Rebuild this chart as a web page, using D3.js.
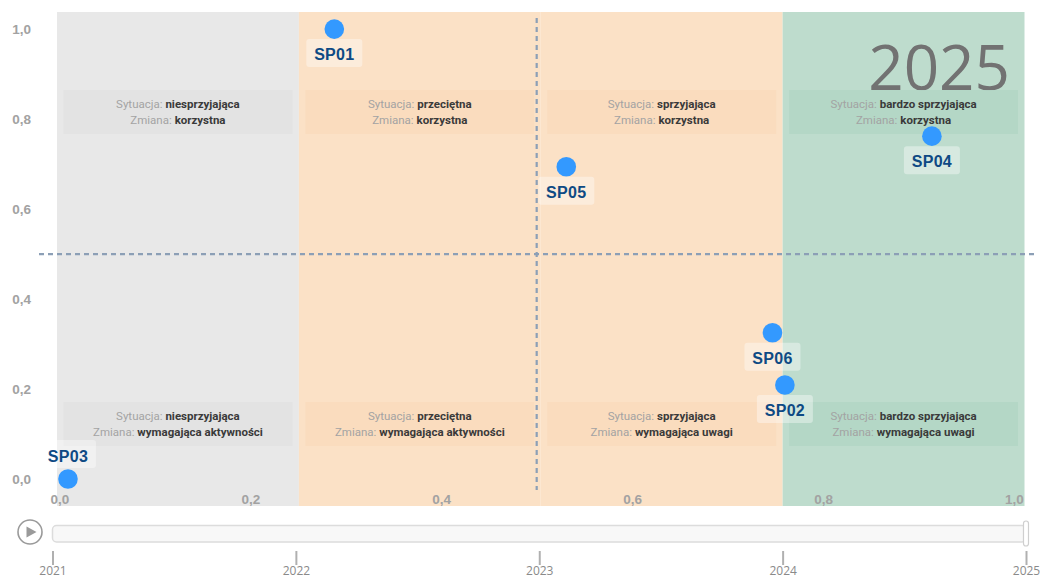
<!DOCTYPE html>
<html lang="pl">
<head>
<meta charset="utf-8">
<title>Sytuacja i zmiana – 2025</title>
<script src="https://cdn.jsdelivr.net/npm/d3@7"></script>
<style>
  html, body { margin: 0; padding: 0; background: #ffffff; }
  svg { display: block; }
</style>
</head>
<body>
<svg id="chart" width="1040" height="580"></svg>
<script>
// ---- data ----
const sites      = ["SP01", "SP02", "SP03", "SP04", "SP05", "SP06"];
const situation  = [0.288, 0.760, 0.009, 0.914, 0.531, 0.747];   // x: sytuacja
const change     = [1.000, 0.209, 0.000, 0.762, 0.694, 0.325];   // y: zmiana

const situationLevels = ["niesprzyjająca", "przeciętna", "sprzyjająca", "bardzo sprzyjająca"];
const changeUpper     = ["korzystna", "korzystna", "korzystna", "korzystna"];
const changeLower     = ["wymagająca aktywności", "wymagająca aktywności", "wymagająca uwagi", "wymagająca uwagi"];
const bandGroups      = ["weak", "mid", "mid", "strong"];

const xTickValues = [0, 0.2, 0.4, 0.6, 0.8, 1.0];
const yTickValues = [0, 0.2, 0.4, 0.6, 0.8, 1.0];
const years       = [2021, 2022, 2023, 2024, 2025];
const currentYear = 2025;

// ---- styling ----
const bandFill = { weak: "#e8e8e8", mid: "#fbe1c6", strong: "#bedccd" };
const boxFill  = { weak: "#e2e2e2", mid: "#fadbbd", strong: "#b3d6c5" };
const pointColor = "#3399ff";
const labelColor = "#0e4a84";
const guideColor = "#8c9fb6";

const svg = d3.select("#chart");
const plot = { left: 57, right: 1024.5, top: 12, bottom: 506 };

const x = d3.scaleLinear().domain([-0.0025, 1.011]).range([plot.left, plot.right]);
const y = d3.scaleLinear().domain([-0.06, 1.038]).range([plot.bottom, plot.top]);

const pl = d3.formatLocale({ decimal: ",", thousands: " ", grouping: [3], currency: ["", " zł"] });
const fmt = pl.format(".1f");

// ---- background bands (four equal columns over the x domain) ----
const [d0, d1] = x.domain();
const colW = (d1 - d0) / 4;
const cols = bandGroups.map((g, i) => ({ g, i, a: d0 + i * colW, b: d0 + (i + 1) * colW }));

svg.append("g").selectAll("rect").data(cols).join("rect")
  .attr("x", d => x(d.a))
  .attr("width", d => x(d.b) - x(d.a))
  .attr("y", plot.top)
  .attr("height", plot.bottom - plot.top)
  .attr("fill", d => bandFill[d.g]);

// ---- year watermark (behind the description boxes) ----
svg.append("text")
  .attr("x", 1010).attr("y", 90)
  .attr("text-anchor", "end")
  .style("font-family", "'Open Sans', sans-serif")
  .style("font-size", "62px")
  .attr("fill", "#727272")
  .text(currentYear);

// ---- quadrant description boxes ----
const quad = [];
cols.forEach(c => {
  quad.push({ c, top: plot.top + 78, sit: situationLevels[c.i], chg: changeUpper[c.i] });
  quad.push({ c, top: plot.bottom - 104, sit: situationLevels[c.i], chg: changeLower[c.i] });
});

const qg = svg.append("g").selectAll("g").data(quad).join("g");
qg.append("rect")
  .attr("x", d => x(d.c.a) + 6.5)
  .attr("width", d => x(d.c.b) - x(d.c.a) - 13)
  .attr("y", d => d.top)
  .attr("height", 44)
  .attr("fill", d => boxFill[d.c.g])
  .attr("fill-opacity", 0.92);

const qText = (sel, dy, key, val) => {
  const t = sel.append("text")
    .attr("x", d => (x(d.c.a) + x(d.c.b)) / 2)
    .attr("y", d => d.top + dy)
    .attr("text-anchor", "middle")
    .style("font-family", "Roboto, 'Noto Sans', sans-serif")
    .style("font-size", "11.5px");
  t.append("tspan").attr("fill", "#a3a3a3").text(key);
  t.append("tspan").attr("fill", "#3a3a3a").attr("font-weight", "bold").text(val);
};
qg.each(function (d) {
  const s = d3.select(this);
  qText(s, 18, "Sytuacja: ", d.sit);
  qText(s, 34, "Zmiana: ", d.chg);
});

// ---- axes (labels only, drawn inside the plot) ----
const xAxis = svg.append("g")
  .attr("transform", "translate(0,494)")
  .call(d3.axisBottom(x).tickValues(xTickValues).tickFormat(fmt).tickSize(0).tickPadding(0));
const yAxis = svg.append("g")
  .attr("transform", "translate(31,0)")
  .call(d3.axisLeft(y).tickValues(yTickValues).tickFormat(fmt).tickSize(0).tickPadding(0));
[xAxis, yAxis].forEach(a => {
  a.select(".domain").remove();
  a.selectAll("text")
    .attr("fill", "#a2a2a2")
    .style("font-family", "'Liberation Sans', Arial, sans-serif")
    .style("font-weight", "bold")
    .style("font-size", "13.5px");
});

// ---- mid guides ----
svg.append("line")
  .attr("x1", x(0.5)).attr("x2", x(0.5))
  .attr("y1", 18).attr("y2", 490)
  .attr("stroke", guideColor).attr("stroke-width", 2.2).attr("stroke-dasharray", "5,4");
svg.append("line")
  .attr("x1", 39).attr("x2", 1034)
  .attr("y1", y(0.5)).attr("y2", y(0.5))
  .attr("stroke", guideColor).attr("stroke-width", 2.2).attr("stroke-dasharray", "5,4");

// ---- points and labels ----
const pts = sites.map((s, i) => ({ s, vx: situation[i], vy: change[i] }));
const pg = svg.append("g").selectAll("g").data(pts).join("g")
  .attr("transform", d => `translate(${x(d.vx)},${y(d.vy)})`);

pg.append("circle").attr("r", 9.8).attr("fill", pointColor);

// labels go below the point, above it when the point sits on the bottom edge
const below = d => d.vy > 0.05;
pg.append("rect")
  .attr("x", -28).attr("width", 56)
  .attr("y", d => below(d) ? 10 : -39)
  .attr("height", 28)
  .attr("rx", 3)
  .attr("fill", "rgba(255,255,255,0.38)");
pg.append("text")
  .attr("y", d => below(d) ? 31 : -17.5)
  .attr("text-anchor", "middle")
  .attr("fill", labelColor)
  .style("font-family", "'Liberation Sans', Arial, sans-serif")
  .style("font-weight", "bold")
  .style("font-size", "16px")
  .style("letter-spacing", "0.3px")
  .text(d => d.s);

// ---- time slider ----
const t = d3.scaleLinear().domain(d3.extent(years)).range([52.5, 1026]);

const play = svg.append("g").attr("transform", "translate(30,532)");
play.append("circle").attr("r", 12).attr("fill", "#ffffff").attr("stroke", "#9a9a9a").attr("stroke-width", 1.6);
play.append("path").attr("d", "M-3.5,-5.5L6.5,0L-3.5,5.5Z").attr("fill", "#9a9a9a");

svg.append("rect")
  .attr("x", 52.5).attr("y", 525.5)
  .attr("width", t(currentYear) - 52.5).attr("height", 16.5)
  .attr("rx", 4)
  .attr("fill", "#f8f8f8").attr("stroke", "#dcdcdc").attr("stroke-width", 1.5);
svg.append("rect")
  .attr("x", t(currentYear) - 2.5).attr("y", 521)
  .attr("width", 5).attr("height", 25)
  .attr("rx", 2.5)
  .attr("fill", "#ffffff").attr("stroke", "#cfcfcf").attr("stroke-width", 1.2);

const sAxis = svg.append("g")
  .attr("transform", "translate(0,551)")
  .call(d3.axisBottom(t).tickValues(years).tickFormat(d3.format("d")).tickSize(14).tickPadding(1));
sAxis.select(".domain").remove();
sAxis.selectAll(".tick line").attr("stroke", "#b0b0b0").attr("stroke-width", 2);
sAxis.selectAll("text")
  .attr("fill", "#8a8a8a")
  .style("font-family", "'Open Sans', Arial, sans-serif")
  .style("font-size", "12px");
</script>
</body>
</html>
